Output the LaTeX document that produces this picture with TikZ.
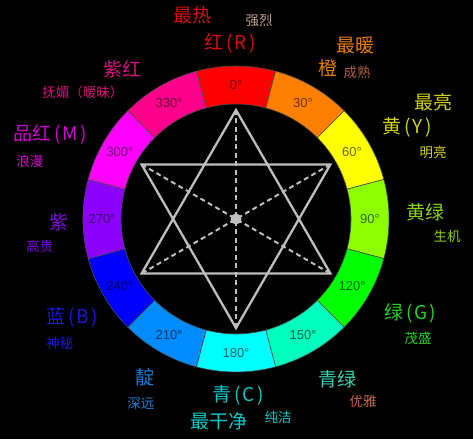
\documentclass[tikz,border=0pt]{standalone}
\usepackage{fontspec}
\setmainfont{Noto Sans CJK SC}
\newfontfamily\degfont{Liberation Sans}
\usepackage{tikz}
\usetikzlibrary{calc}
\usepackage{xcolor}
\definecolor{hueA}{RGB}{255,0,0}
\definecolor{hueB}{RGB}{255,128,0}
\definecolor{hueC}{RGB}{255,255,0}
\definecolor{hueD}{RGB}{140,255,0}
\definecolor{hueE}{RGB}{0,255,0}
\definecolor{hueF}{RGB}{0,255,190}
\definecolor{hueG}{RGB}{0,255,255}
\definecolor{hueH}{RGB}{0,140,255}
\definecolor{hueI}{RGB}{0,0,255}
\definecolor{hueJ}{RGB}{140,0,255}
\definecolor{hueK}{RGB}{255,0,255}
\definecolor{hueL}{RGB}{255,0,140}
\definecolor{redt}{RGB}{215,15,15}
\definecolor{oranget}{RGB}{230,125,10}
\definecolor{yellowt}{RGB}{210,210,20}
\definecolor{ygreent}{RGB}{140,210,10}
\definecolor{greent}{RGB}{35,210,35}
\definecolor{tealt}{RGB}{60,210,180}
\definecolor{azuret}{RGB}{30,125,220}
\definecolor{cyant}{RGB}{10,200,200}
\definecolor{roset}{RGB}{210,20,125}
\definecolor{magentat}{RGB}{210,0,210}
\definecolor{violett}{RGB}{125,10,220}
\definecolor{bluet}{RGB}{25,25,220}
\definecolor{beiget}{RGB}{190,160,140}
\definecolor{brownt}{RGB}{175,95,65}
\definecolor{salmont}{RGB}{200,105,75}
\definecolor{stargrey}{RGB}{190,190,190}
\newcommand{\lblpar}[1]{\kern3pt(\kern2pt#1\kern2pt)}

\begin{document}
\begin{tikzpicture}[
  x=1pt, y=1pt,
  big/.style={text=#1, inner sep=0pt, font=\fontsize{19}{20}\selectfont},
  small/.style={text=#1, inner sep=0pt, font=\fontsize{13.5}{14}\selectfont},
  deg/.style={text=black, text opacity=0.6, inner sep=0pt,
    font=\degfont\fontsize{13}{14}\selectfont},
  starline/.style={draw=stargrey, line width=2.3pt, line join=miter},
  diag/.style={draw=stargrey, line width=2pt, dash pattern=on 5pt off 3.5pt},
]

% ---- background ----
\fill[black] (-236,-220) rectangle (237,219);
\useasboundingbox (-236,-220) rectangle (237,219);

% ---- colour ring ----
\def\rin{115pt}
\def\rout{153pt}
\foreach \h/\c in {0/hueA,30/hueB,60/hueC,90/hueD,120/hueE,150/hueF,
                   180/hueG,210/hueH,240/hueI,270/hueJ,300/hueK,330/hueL}{
  \pgfmathsetmacro\a{90-\h}
  \filldraw[fill=\c, draw=black!70, line width=0.6pt]
    ({\a+15}:\rin) arc[start angle={\a+15}, end angle={\a-15}, radius=\rin]
    -- ({\a-15}:\rout) arc[start angle={\a-15}, end angle={\a+15}, radius=\rout]
    -- cycle;
  \node[deg] (deg\h) at (\a:134pt) {\h°};
}

% ---- star of two triangles ----
\foreach \t in {90,30,-30,-90,-150,150}
  \coordinate (v\t) at (\t:109pt);
\coordinate (mid) at (0,0);
\draw[diag] (v90) -- (v-90);
\draw[diag] (v150) -- (v-30);
\draw[diag] (v30) -- (v-150);
\draw[starline] (v90) -- (v-30) -- (v-150) -- cycle;
\draw[starline] (v-90) -- (v30) -- (v150) -- cycle;
\fill[stargrey] (mid) circle (5.5pt);

% ---- top: red / orange ----
\node[big=redt] (hot) at (-44,204) {最热};
\node[small=beiget] (strong) at (23,198) {强烈};
\node[big=redt] (red) at (-6,176) {红\lblpar{R}};
\node[big=oranget] (warm) at (119,174) {最暖};
\node[big=oranget] (orange) at (92,151) {橙};
\node[small=brownt] (ripe) at (121,147) {成熟};

% ---- right: yellow / green ----
\node[big=yellowt] (bright) at (197,117) {最亮};
\node[big=yellowt] (yellow) at (171,92) {黄\lblpar{Y}};
\node[small=yellowt] (clear) at (197,67) {明亮};
\node[big=ygreent] (ygreen) at (189,7) {黄绿};
\node[small=ygreent] (alive) at (211,-17) {生机};
\node[big=greent] (green) at (174,-94) {绿\lblpar{G}};
\node[small=greent] (lush) at (182,-119) {茂盛};

% ---- bottom: cyan ----
\node[big=tealt] (tealg) at (101,-160) {青绿};
\node[small=salmont] (grace) at (127,-182) {优雅};
\node[big=cyant] (cyan) at (2,-176) {青\lblpar{C}};
\node[big=cyant] (cleanest) at (-17,-202) {最干净};
\node[small=cyant] (pure) at (42,-198) {纯洁};
\node[big=azuret] (indigo) at (-91,-158) {靛};
\node[small=azuret] (deep) at (-95,-184) {深远};

% ---- left: blue / violet / magenta ----
\node[big=bluet] (blue) at (-164,-98) {蓝\lblpar{B}};
\node[small=bluet] (mystic) at (-176,-124) {神秘};
\node[big=violett] (violet) at (-177,-3) {紫};
\node[small=violett] (noble) at (-196,-27) {高贵};
\node[big=magentat] (magenta) at (-186,85) {品红\lblpar{M}};
\node[small=magentat] (romance) at (-206,58) {浪漫};
\node[big=roset] (rose) at (-113,150) {紫红};
\node[small=roset] (charm) at (-153,127) {抚媚（暧昧）};

\end{tikzpicture}
\end{document}
